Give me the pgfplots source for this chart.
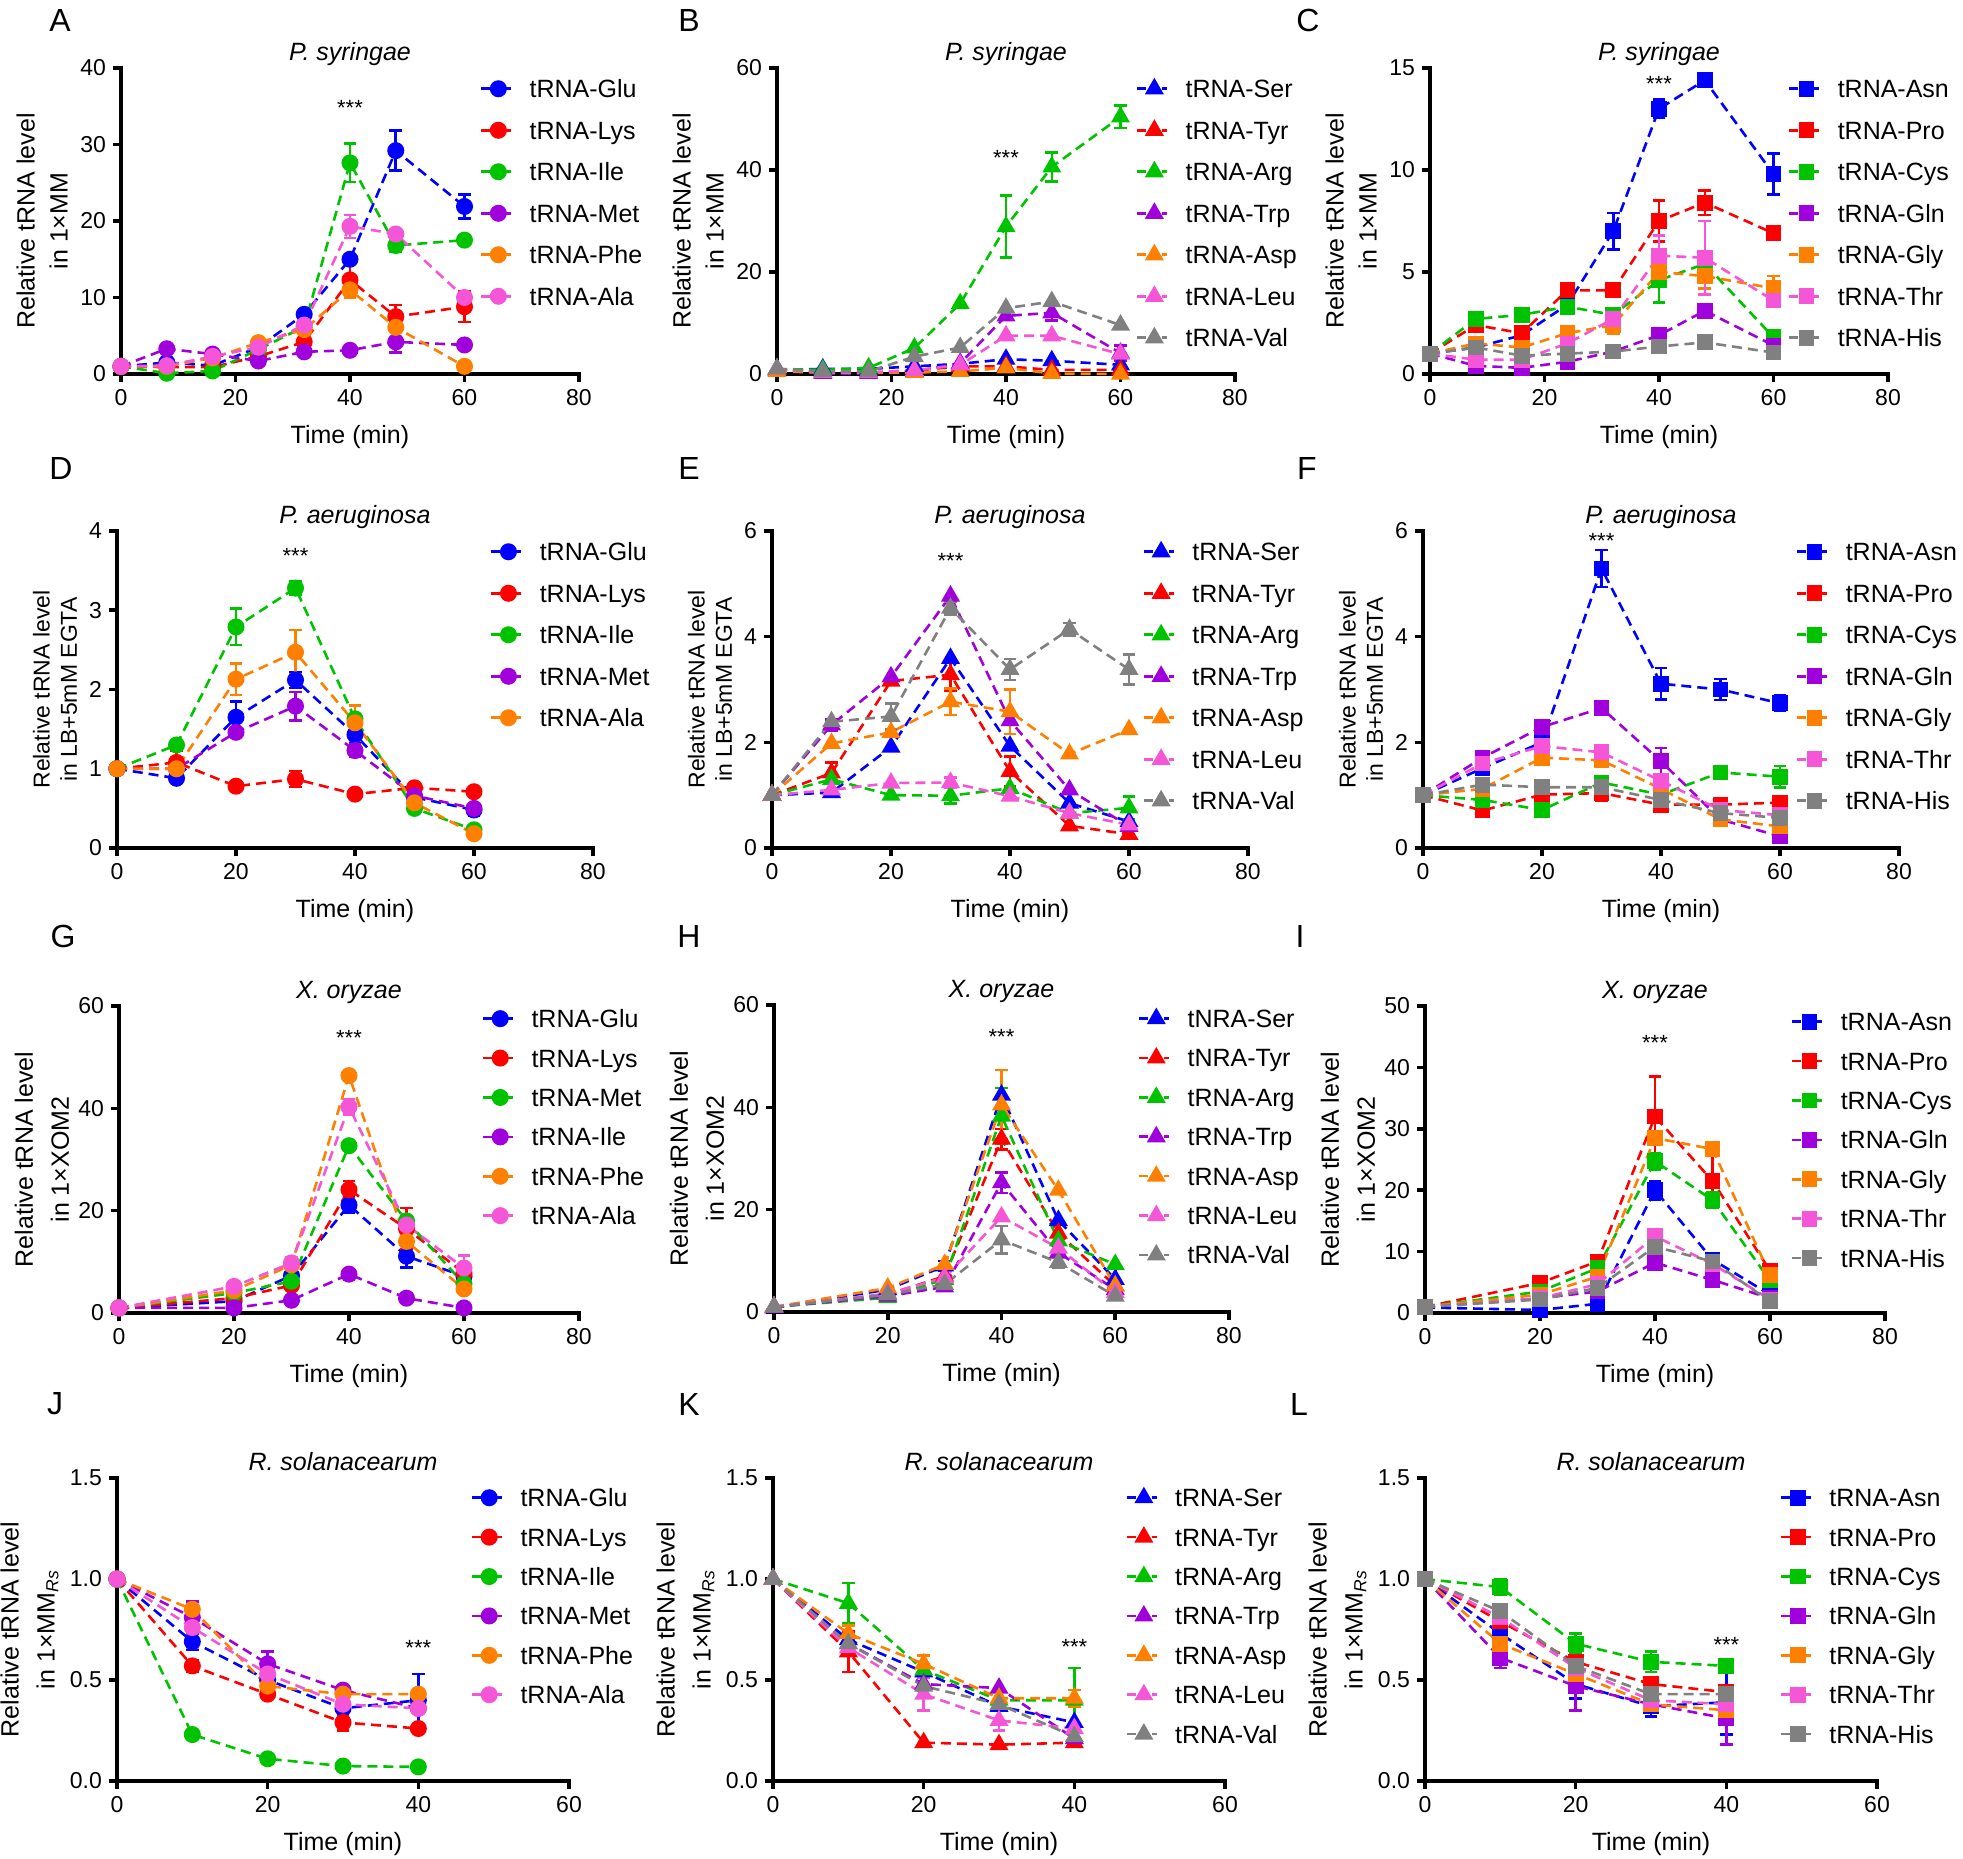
\documentclass[border=0pt]{standalone}
\usepackage{fontspec}
\setmainfont{Liberation Sans}
\usepackage{pgfplots}
\pgfplotsset{compat=1.18}

\definecolor{cb}{RGB}{0,0,255}
\definecolor{cr}{RGB}{255,0,0}
\definecolor{cg}{RGB}{0,195,0}
\definecolor{cp}{RGB}{160,0,220}
\definecolor{co}{RGB}{255,128,0}
\definecolor{ck}{RGB}{245,85,215}
\definecolor{cy}{RGB}{128,128,128}

\newcommand\tkfont{\fontsize{11.5}{13}\selectfont}
\newcommand\lbfont{\fontsize{12.5}{15}\selectfont}
\newcommand\yfa{\fontsize{12.5}{16.5}\selectfont}
\newcommand\yfb{\fontsize{11.5}{13.7}\selectfont}
\newcommand\yfc{\fontsize{12.5}{18}\selectfont}

\pgfplotsset{
  ser/.style={color=#1, line width=1.3pt, dash pattern=on 5pt off 3pt,
    mark options={solid, fill=#1, draw=#1},
    /pgfplots/error bars/y dir=both, /pgfplots/error bars/y explicit,
    /pgfplots/error bars/error bar style={solid, line width=1.3pt, color=#1},
    /pgfplots/error bars/error mark options={rotate=90, mark size=3.2pt, line width=1.3pt, solid, color=#1}},
  mc/.style={mark=*, mark size=3.6pt},
  mt/.style={mark=triangle*, mark size=4.2pt},
  ms/.style={mark=square*, mark size=3.3pt},
  panel/.style={
    scale only axis, axis x line*=bottom, axis y line*=left,
    axis line style={line width=1.8pt, -, line cap=rect},
    tick style={line width=1.8pt, black},
    tick align=outside, major tick length=4pt,
    xmin=0, ymin=0, clip=false,
    tick label style={font=\tkfont},
    /pgf/number format/assume math mode=true,
    xlabel={Time (min)},
    every axis title/.style={at={(0.5,1)}, anchor=base, yshift=3.75pt, font=\lbfont\itshape},
    every axis x label/.style={at={(axis description cs:0.5,0)}, anchor=center, yshift=-31.5pt, font=\lbfont},
    legend image code/.code={
      \draw[##1, mark=none, solid, line width=1.3pt] (0pt,0pt) -- (4.5pt,0pt);
      \draw[##1, mark=none, solid, line width=1.3pt] (12.5pt,0pt) -- (15pt,0pt);
      \path[##1, solid] plot coordinates {(8.5pt,0pt)};},
    legend cell align=left},
  ylab/.style n args={2}{every axis y label/.style={at={(axis description cs:0,0.5)}, anchor=center, shift={(-#1,0)}, rotate=90, align=center, font=#2}},
  lg/.style n args={3}{legend style={at={(#1,#2)}, anchor=north west, draw=none, fill=none, inner sep=0pt, outer sep=0pt, column sep=8.5pt, row sep=0pt, font=\lbfont, nodes={inner sep=0pt, #3}}},
  r1/.style={width=229pt, height=153pt, xmax=80, xtick={0,20,40,60,80}, ylab={39.5pt}{\yfa}, ylabel={Relative tRNA level\\in 1×MM}, title={P. syringae}},
  r2/.style={width=238pt, height=158.5pt, xmax=80, xtick={0,20,40,60,80}, ylab={31pt}{\yfb}, ylabel={Relative tRNA level\\in LB+5mM EGTA}, title={P. aeruginosa}},
  r3/.style={width=230pt, height=153.5pt, xmax=80, xtick={0,20,40,60,80}, ylab={38.5pt}{\yfc}, ylabel={Relative tRNA level\\in 1×XOM2}, title={X. oryzae}},
  r4/.style={width=226pt, height=151.5pt, xmax=60, xtick={0,20,40,60}, ylab={43.75pt}{\yfc}, ylabel={Relative tRNA level\\in 1×MM\textsubscript{\itshape Rs}}, title={R. solanacearum},
    ymax=1.5, ytick={0,0.5,1,1.5}, yticklabel style={/pgf/number format/.cd, fixed, fixed zerofill, precision=1}},
}
\newcommand\stars[2]{\node[font=\fontsize{11}{12}\selectfont, anchor=base, yshift=-6.4pt] at (axis cs:#1,#2) {***};}

\begin{document}
\begin{tikzpicture}
\path[use as bounding box] (0,0) rectangle (981.5pt,-929pt);
\foreach \l/\x/\y in {A/30/-10, B/344.5/-10, C/654/-10, D/30.5/-234, E/344.5/-234, F/653.5/-234, G/31.5/-468, H/344.5/-468, I/650/-468, J/27.5/-702, K/344.5/-702, L/649.5/-702}
  \node[font=\fontsize{16}{16}\selectfont] at (\x pt,\y pt) {\l};

% ---------- A ----------
\begin{axis}[panel, r1, at={(60.5pt,-187pt)}, anchor=south west, ymax=40, ytick={0,10,20,30,40},
  lg={0.784}{1}{text height=14.9pt, text depth=5.85pt}]
\addplot[ser=cb, mc] coordinates {(0,1.0) (8,1.5) (16,1.1) (24,3.5) (32,7.8) (40,15.0) (48,29.2) +- (0,2.6) (60,21.9) +- (0,1.6)};
\addplot[ser=cr, mc] coordinates {(0,1.0) (8,0.9) (16,0.9) (24,2.3) (32,4.2) (40,12.3) +- (0,2.3) (48,7.5) +- (0,1.5) (60,8.8) +- (0,2.0)};
\addplot[ser=cg, mc] coordinates {(0,1.0) (8,0.1) (16,0.4) (24,3.2) (32,6.2) (40,27.6) +- (0,2.5) (48,16.8) +- (0,0.8) (60,17.5)};
\addplot[ser=cp, mc] coordinates {(0,1.0) (8,3.3) (16,2.6) (24,1.7) (32,2.9) (40,3.1) (48,4.2) +- (0,1.4) (60,3.8)};
\addplot[ser=co, mc] coordinates {(0,1.0) (8,1.0) (16,2.1) (24,4.1) (32,5.8) (40,11.0) +- (0,1.0) (48,6.1) (60,1.0)};
\addplot[ser=ck, mc] coordinates {(0,1.0) (8,1.1) (16,2.3) (24,3.5) (32,6.4) (40,19.3) +- (0,1.5) (48,18.3) (60,10.0)};
\legend{tRNA-Glu,tRNA-Lys,tRNA-Ile,tRNA-Met,tRNA-Phe,tRNA-Ala}
\stars{40}{35.5}
\end{axis}

% ---------- B ----------
\begin{axis}[panel, r1, at={(388.5pt,-187pt)}, anchor=south west, ymax=60, ytick={0,20,40,60},
  lg={0.784}{1}{text height=14.9pt, text depth=5.85pt}]
\addplot[ser=cb, mt] coordinates {(0,0.8) (8,1.0) (16,1.0) (24,1.5) (32,2.0) (40,2.9) (48,2.6) (60,1.8)};
\addplot[ser=cr, mt] coordinates {(0,0.8) (8,0.3) (16,0.3) (24,0.7) (32,1.5) (40,1.5) (48,0.8) (60,0.8)};
\addplot[ser=cg, mt] coordinates {(0,1.0) (8,0.8) (16,1.2) (24,5.1) (32,13.8) (40,28.9) +- (0,6.1) (48,40.6) +- (0,2.8) (60,50.4) +- (0,2.2)};
\addplot[ser=cp, mt] coordinates {(0,1.0) (8,0.1) (16,0.1) (24,0.5) (32,2.1) (40,11.4) (48,12.0) +- (0,1.5) (60,4.1) +- (0,1.5)};
\addplot[ser=co, mt] coordinates {(0,0.5) (8,0.3) (16,0.3) (24,0.3) (32,0.5) (40,1.2) (48,0.1) (60,0.0)};
\addplot[ser=ck, mt] coordinates {(0,1.0) (8,0.3) (16,0.3) (24,0.7) (32,1.8) (40,7.5) (48,7.5) (60,3.9)};
\addplot[ser=cy, mt] coordinates {(0,1.0) (8,0.5) (16,0.5) (24,3.4) (32,5.2) (40,12.9) (48,14.2) (60,9.6)};
\legend{tRNA-Ser,tRNA-Tyr,tRNA-Arg,tRNA-Trp,tRNA-Asp,tRNA-Leu,tRNA-Val}
\stars{40}{43.3}
\end{axis}

% ---------- C ----------
\begin{axis}[panel, r1, at={(715pt,-187pt)}, anchor=south west, ymax=15, ytick={0,5,10,15},
  lg={0.782}{1}{text height=14.9pt, text depth=5.85pt}]
\addplot[ser=cb, ms] coordinates {(0,1.0) (8,1.3) (16,1.9) (24,3.4) (32,7.0) +- (0,0.9) (40,13.0) +- (0,0.45) (48,14.4) (60,9.8) +- (0,1.0)};
\addplot[ser=cr, ms] coordinates {(0,1.0) (8,2.4) (16,2.0) (24,4.1) (32,4.1) (40,7.5) +- (0,1.0) (48,8.4) +- (0,0.6) (60,6.9) +- (0,0.3)};
\addplot[ser=cg, ms] coordinates {(0,1.0) (8,2.7) (16,2.9) (24,3.3) (32,2.9) (40,4.6) +- (0,1.1) (48,5.4) +- (0,0.3) (60,1.8)};
\addplot[ser=cp, ms] coordinates {(0,1.0) (8,0.4) (16,0.3) (24,0.6) (32,1.1) (40,1.9) (48,3.1) (60,1.4)};
\addplot[ser=co, ms] coordinates {(0,1.0) (8,1.5) (16,1.3) (24,2.0) (32,2.4) +- (0,0.4) (40,5.0) +- (0,0.5) (48,4.8) +- (0,0.6) (60,4.2) +- (0,0.6)};
\addplot[ser=ck, ms] coordinates {(0,1.0) (8,0.7) (16,0.7) (24,1.5) (32,2.7) (40,5.8) +- (0,1.0) (48,5.7) +- (0,1.8) (60,3.6)};
\addplot[ser=cy, ms] coordinates {(0,1.0) (8,1.3) (16,0.9) (24,1.0) (32,1.1) (40,1.35) (48,1.55) (60,1.05)};
\legend{tRNA-Asn,tRNA-Pro,tRNA-Cys,tRNA-Gln,tRNA-Gly,tRNA-Thr,tRNA-His}
\stars{40}{14.5}
\end{axis}

% ---------- D ----------
\begin{axis}[panel, r2, at={(58.5pt,-424pt)}, anchor=south west, ymax=4, ytick={0,1,2,3,4},
  lg={0.784}{1}{text height=14.9pt, text depth=5.85pt}]
\addplot[ser=cb, mc] coordinates {(0,1) (10,0.88) (20,1.65) +- (0,0.2) (30,2.12) +- (0,0.1) (40,1.43) +- (0,0.1) (50,0.64) (60,0.48) +- (0,0.07)};
\addplot[ser=cr, mc] coordinates {(0,1) (10,1.08) +- (0,0.15) (20,0.78) (30,0.87) +- (0,0.1) (40,0.68) (50,0.76) (60,0.71)};
\addplot[ser=cg, mc] coordinates {(0,1) (10,1.3) (20,2.79) +- (0,0.23) (30,3.28) +- (0,0.08) (40,1.63) (50,0.5) (60,0.23)};
\addplot[ser=cp, mc] coordinates {(0,1) (10,1.0) (20,1.46) (30,1.79) +- (0,0.18) (40,1.23) +- (0,0.08) (50,0.66) (60,0.5)};
\addplot[ser=co, mc] coordinates {(0,1) (10,1.0) (20,2.13) +- (0,0.2) (30,2.47) +- (0,0.28) (40,1.58) +- (0,0.22) (50,0.57) (60,0.18)};
\legend{tRNA-Glu,tRNA-Lys,tRNA-Ile,tRNA-Met,tRNA-Ala}
\stars{30}{3.75}
\end{axis}

% ---------- E ----------
\begin{axis}[panel, r2, at={(386pt,-424pt)}, anchor=south west, ymax=6, ytick={0,2,4,6},
  lg={0.779}{1}{text height=14.9pt, text depth=5.85pt}]
\addplot[ser=cb, mt] coordinates {(0,1) (10,1.05) (20,1.91) (30,3.59) (40,1.93) (50,0.85) (60,0.5)};
\addplot[ser=cr, mt] coordinates {(0,1) (10,1.42) +- (0,0.2) (20,3.16) (30,3.28) +- (0,0.3) (40,1.45) +- (0,0.28) (50,0.42) (60,0.26)};
\addplot[ser=cg, mt] coordinates {(0,1) (10,1.3) (20,1.0) (30,0.99) +- (0,0.15) (40,1.13) (50,0.66) (60,0.76) +- (0,0.22)};
\addplot[ser=cp, mt] coordinates {(0,1) (10,2.33) +- (0,0.1) (20,3.24) (30,4.77) (40,2.41) (50,1.1) (60,0.41)};
\addplot[ser=co, mt] coordinates {(0,1) (10,1.98) (20,2.19) (30,2.77) +- (0,0.25) (40,2.58) +- (0,0.42) (50,1.78) (60,2.24)};
\addplot[ser=ck, mt] coordinates {(0,1) (10,1.1) (20,1.23) (30,1.24) +- (0,0.1) (40,0.98) (50,0.66) (60,0.44)};
\addplot[ser=cy, mt] coordinates {(0,1) (10,2.39) (20,2.49) +- (0,0.25) (30,4.54) +- (0,0.12) (40,3.38) +- (0,0.2) (50,4.14) +- (0,0.12) (60,3.38) +- (0,0.28)};
\legend{tRNA-Ser,tRNA-Tyr,tRNA-Arg,tRNA-Trp,tRNA-Asp,tRNA-Leu,tRNA-Val}
\stars{30}{5.53}
\end{axis}

% ---------- F ----------
\begin{axis}[panel, r2, at={(711.5pt,-424pt)}, anchor=south west, ymax=6, ytick={0,2,4,6},
  lg={0.784}{1}{text height=14.9pt, text depth=5.85pt}]
\addplot[ser=cb, ms] coordinates {(0,1) (10,1.51) (20,2.0) (30,5.29) +- (0,0.35) (40,3.11) +- (0,0.3) (50,3.0) +- (0,0.2) (60,2.74) +- (0,0.15)};
\addplot[ser=cr, ms] coordinates {(0,1) (10,0.71) (20,1.01) (30,1.04) +- (0,0.15) (40,0.82) (50,0.82) (60,0.86)};
\addplot[ser=cg, ms] coordinates {(0,1) (10,0.91) (20,0.72) (30,1.24) (40,1.01) (50,1.43) (60,1.35) +- (0,0.2)};
\addplot[ser=cp, ms] coordinates {(0,1) (10,1.71) (20,2.29) (30,2.65) (40,1.64) +- (0,0.25) (50,0.54) (60,0.22)};
\addplot[ser=co, ms] coordinates {(0,1) (10,1.12) (20,1.71) (30,1.66) (40,1.12) (50,0.54) (60,0.41)};
\addplot[ser=ck, ms] coordinates {(0,1) (10,1.6) (20,1.93) (30,1.81) (40,1.27) (50,0.72) (60,0.62)};
\addplot[ser=cy, ms] coordinates {(0,1) (10,1.2) +- (0,0.1) (20,1.15) +- (0,0.1) (30,1.15) (40,0.91) (50,0.66) (60,0.57)};
\legend{tRNA-Asn,tRNA-Pro,tRNA-Cys,tRNA-Gln,tRNA-Gly,tRNA-Thr,tRNA-His}
\stars{30}{5.92}
\end{axis}

% ---------- G ----------
\begin{axis}[panel, r3, at={(59.5pt,-656.5pt)}, anchor=south west, ymax=60, ytick={0,20,40,60},
  lg={0.789}{1.023}{text height=14.35pt, text depth=5.35pt}]
\addplot[ser=cb, mc] coordinates {(0,1) (20,2.3) (30,7.3) (40,21.1) +- (0,1.5) (50,11.1) +- (0,2.2) (60,7.2) +- (0,2)};
\addplot[ser=cr, mc] coordinates {(0,1) (20,2.9) (30,5.4) (40,24.1) +- (0,1.7) (50,16.5) +- (0,4) (60,7.8)};
\addplot[ser=cg, mc] coordinates {(0,1) (20,3.9) (30,6.2) (40,32.7) (50,18.0) (60,5.7)};
\addplot[ser=cp, mc] coordinates {(0,1) (20,1.0) (30,2.5) (40,7.6) +- (0,1) (50,2.9) (60,1.0)};
\addplot[ser=co, mc] coordinates {(0,1) (20,4.4) (30,9.4) +- (0,1.2) (40,46.4) (50,14.0) (60,4.7)};
\addplot[ser=ck, mc] coordinates {(0,1) (20,5.2) +- (0,0.8) (30,9.8) +- (0,1) (40,40.3) +- (0,1.5) (50,17.2) (60,8.8) +- (0,2.5)};
\legend{tRNA-Glu,tRNA-Lys,tRNA-Met,tRNA-Ile,tRNA-Phe,tRNA-Ala}
\stars{40}{54.7}
\end{axis}

% ---------- H ----------
\begin{axis}[panel, r3, width=227.5pt, at={(387pt,-656pt)}, anchor=south west, ymax=60, ytick={0,20,40,60},
  lg={0.80}{1.02}{text height=14.35pt, text depth=5.35pt}]
\addplot[ser=cb, mt] coordinates {(0,0.8) (20,4.4) (30,9.0) +- (0,1) (40,42.4) (50,17.9) (60,6.4) +- (0,2)};
\addplot[ser=cr, mt] coordinates {(0,1) (20,3.4) (30,7.0) (40,33.8) +- (0,2) (50,15.4) (60,5.1)};
\addplot[ser=cg, mt] coordinates {(0,1) (20,2.8) (30,6.4) (40,38.3) +- (0,5.5) (50,13.9) (60,9.3)};
\addplot[ser=cp, mt] coordinates {(0,1) (20,3.1) (30,4.9) (40,25.3) +- (0,2) (50,11.6) (60,4.4)};
\addplot[ser=co, mt] coordinates {(0,1) (20,4.7) (30,9.3) (40,40.5) +- (0,6.8) (50,23.8) (60,5.1)};
\addplot[ser=ck, mt] coordinates {(0,1) (20,3.6) (30,6.7) (40,18.6) (50,12.5) (60,3.8)};
\addplot[ser=cy, mt] coordinates {(0,1) (20,3.4) (30,5.4) (40,14.1) +- (0,2.7) (50,9.7) +- (0,1) (60,3.1)};
\legend{tNRA-Ser,tNRA-Tyr,tRNA-Arg,tRNA-Trp,tRNA-Asp,tRNA-Leu,tRNA-Val}
\stars{40}{54.7}
\end{axis}

% ---------- I ----------
\begin{axis}[panel, r3, at={(712.5pt,-656.5pt)}, anchor=south west, ymax=50, ytick={0,10,20,30,40,50},
  lg={0.796}{1.013}{text height=14.35pt, text depth=5.35pt}]
\addplot[ser=cb, ms] coordinates {(0,0.9) (20,0.5) (30,1.5) (40,20.0) +- (0,1.5) (50,8.7) (60,3.0)};
\addplot[ser=cr, ms] coordinates {(0,1) (20,4.9) (30,8.4) (40,32.0) +- (0,6.5) (50,21.5) +- (0,4.4) (60,6.9)};
\addplot[ser=cg, ms] coordinates {(0,1) (20,3.5) (30,7.3) (40,24.7) +- (0,1.3) (50,18.4) +- (0,1.2) (60,5.3)};
\addplot[ser=cp, ms] coordinates {(0,1) (20,2.4) (30,3.5) (40,8.2) (50,5.4) (60,2.4)};
\addplot[ser=co, ms] coordinates {(0,1) (20,3.0) (30,5.9) (40,28.5) (50,26.7) (60,6.2)};
\addplot[ser=ck, ms] coordinates {(0,1) (20,2.4) (30,4.7) (40,12.5) (50,8.0) (60,2.2)};
\addplot[ser=cy, ms] coordinates {(0,1) (20,2.2) (30,4.1) (40,10.8) (50,8.4) (60,1.9)};
\legend{tRNA-Asn,tRNA-Pro,tRNA-Cys,tRNA-Gln,tRNA-Gly,tRNA-Thr,tRNA-His}
\stars{40}{44.8}
\end{axis}

% ---------- J ----------
\begin{axis}[panel, r4, at={(58.5pt,-890.5pt)}, anchor=south west,
  lg={0.783}{1}{text height=14.35pt, text depth=5.35pt}]
\addplot[ser=cb, mc] coordinates {(0,1) (10,0.69) +- (0,0.04) (20,0.50) +- (0,0.04) (30,0.36) (40,0.40) +- (0,0.13)};
\addplot[ser=cr, mc] coordinates {(0,1) (10,0.57) +- (0,0.03) (20,0.43) (30,0.29) +- (0,0.04) (40,0.26)};
\addplot[ser=cg, mc] coordinates {(0,1) (10,0.23) (20,0.11) (30,0.074) (40,0.07)};
\addplot[ser=cp, mc] coordinates {(0,1) (10,0.81) +- (0,0.08) (20,0.58) +- (0,0.06) (30,0.45) (40,0.36)};
\addplot[ser=co, mc] coordinates {(0,1) (10,0.85) (20,0.47) (30,0.43) (40,0.43)};
\addplot[ser=ck, mc] coordinates {(0,1) (10,0.76) +- (0,0.1) (20,0.53) (30,0.38) (40,0.36)};
\legend{tRNA-Glu,tRNA-Lys,tRNA-Ile,tRNA-Met,tRNA-Phe,tRNA-Ala}
\stars{40}{0.683}
\end{axis}

% ---------- K ----------
\begin{axis}[panel, r4, at={(386.5pt,-890.5pt)}, anchor=south west,
  lg={0.78}{1}{text height=14.35pt, text depth=5.35pt}]
\addplot[ser=cb, mt] coordinates {(0,1) (10,0.70) (20,0.54) (30,0.37) (40,0.29)};
\addplot[ser=cr, mt] coordinates {(0,1) (10,0.64) +- (0,0.1) (20,0.19) (30,0.18) (40,0.19)};
\addplot[ser=cg, mt] coordinates {(0,1) (10,0.88) +- (0,0.1) (20,0.55) (30,0.40) (40,0.40) +- (0,0.16)};
\addplot[ser=cp, mt] coordinates {(0,1) (10,0.68) (20,0.48) (30,0.46) (40,0.21)};
\addplot[ser=co, mt] coordinates {(0,1) (10,0.73) +- (0,0.04) (20,0.58) +- (0,0.04) (30,0.41) (40,0.41) +- (0,0.04)};
\addplot[ser=ck, mt] coordinates {(0,1) (10,0.66) (20,0.43) +- (0,0.08) (30,0.30) +- (0,0.05) (40,0.26)};
\addplot[ser=cy, mt] coordinates {(0,1) (10,0.68) (20,0.47) (30,0.38) (40,0.22)};
\legend{tRNA-Ser,tRNA-Tyr,tRNA-Arg,tRNA-Trp,tRNA-Asp,tRNA-Leu,tRNA-Val}
\stars{40}{0.69}
\end{axis}

% ---------- L ----------
\begin{axis}[panel, r4, at={(712.5pt,-890.5pt)}, anchor=south west,
  lg={0.785}{1}{text height=14.35pt, text depth=5.35pt}]
\addplot[ser=cb, ms] coordinates {(0,1) (10,0.73) +- (0,0.11) (20,0.48) +- (0,0.07) (30,0.37) +- (0,0.05) (40,0.39) +- (0,0.16)};
\addplot[ser=cr, ms] coordinates {(0,1) (10,0.79) (20,0.59) (30,0.48) (40,0.44)};
\addplot[ser=cg, ms] coordinates {(0,1) (10,0.96) +- (0,0.04) (20,0.68) +- (0,0.05) (30,0.59) +- (0,0.05) (40,0.57)};
\addplot[ser=cp, ms] coordinates {(0,1) (10,0.61) +- (0,0.05) (20,0.47) +- (0,0.12) (30,0.38) (40,0.31) +- (0,0.13)};
\addplot[ser=co, ms] coordinates {(0,1) (10,0.68) (20,0.53) (30,0.38) (40,0.35)};
\addplot[ser=ck, ms] coordinates {(0,1) (10,0.81) (20,0.56) (30,0.40) (40,0.38)};
\addplot[ser=cy, ms] coordinates {(0,1) (10,0.84) (20,0.57) (30,0.43) (40,0.43)};
\legend{tRNA-Asn,tRNA-Pro,tRNA-Cys,tRNA-Gln,tRNA-Gly,tRNA-Thr,tRNA-His}
\stars{40}{0.70}
\end{axis}
\end{tikzpicture}
\end{document}
